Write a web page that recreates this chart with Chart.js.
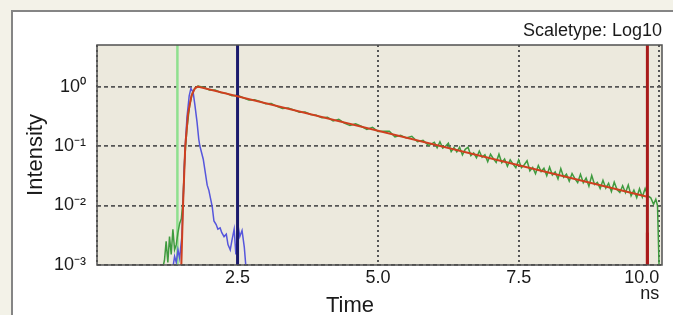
<!DOCTYPE html>
<html>
<head>
<meta charset="utf-8">
<script src="https://cdn.jsdelivr.net/npm/chart.js@4.4.1/dist/chart.umd.min.js"></script>
<style>
  html, body { margin: 0; padding: 0; overflow: hidden; background: #f3f2e8; }
  #panel { position: absolute; left: 11px; top: 10px; width: 700px; height: 400px;
           background: #ffffff; border: 2px solid #858585; }
  #wrap { position: absolute; left: 0; top: 0; width: 673px; height: 315px; }
</style>
</head>
<body>
<div id="panel"></div>
<div id="wrap"><canvas id="decay"></canvas></div>
<script>
// axis ticks
const xTickValues = [0, 2.5, 5, 7.5, 10];
const xTickLabels = ['', '2.5', '5.0', '7.5', ['10.0', 'ns']];
const yTickValues = [0.001, 0.01, 0.1, 1];
const yTickLabels = ['10⁻³', '10⁻²', '10⁻¹', '10⁰'];

// measured decay (green)
const timeData = [1.17, 1.20, 1.23, 1.26, 1.29, 1.32, 1.35, 1.38, 1.41, 1.44, 1.47,
  1.50, 1.53, 1.56, 1.60, 1.65, 1.70, 1.75, 1.80,
  1.9, 2.0, 2.1, 2.2, 2.3, 2.4, 2.5, 2.6, 2.7, 2.8, 2.9, 3.0, 3.1, 3.2, 3.3, 3.4, 3.5,
  3.6, 3.7, 3.8, 3.9, 4.0, 4.1, 4.2, 4.3, 4.4, 4.5, 4.6, 4.7, 4.8, 4.9, 5.0, 5.1, 5.2,
  5.3, 5.4, 5.5, 5.6, 5.7, 5.8, 5.9,
  6.00, 6.05, 6.10, 6.15, 6.20, 6.25, 6.30, 6.35, 6.40, 6.45, 6.50, 6.55, 6.60, 6.65,
  6.70, 6.75, 6.80, 6.85, 6.90, 6.95, 7.00, 7.05, 7.10, 7.15, 7.20, 7.25, 7.30, 7.35,
  7.40, 7.45, 7.50, 7.55, 7.60, 7.65, 7.70, 7.75, 7.80, 7.85, 7.90, 7.95, 8.00, 8.05,
  8.10, 8.15, 8.20, 8.25, 8.30, 8.35, 8.40, 8.45, 8.50, 8.55, 8.60, 8.65, 8.70, 8.75,
  8.80, 8.85, 8.90, 8.95, 9.00, 9.05, 9.10, 9.15, 9.20, 9.25, 9.30, 9.35, 9.40, 9.45,
  9.50, 9.55, 9.60, 9.65, 9.70, 9.75, 9.80, 9.85, 9.90, 9.94, 9.97, 10.00];
const intensityData = [0.0009, 0.0012, 0.0025, 0.0011, 0.0030, 0.0015, 0.0040, 0.0018, 0.0022, 0.0035, 0.0050,
  0.0060, 0.012, 0.06, 0.20, 0.50, 0.80, 0.95, 1.02,
  0.962, 0.876, 0.872, 0.795, 0.769, 0.700, 0.711, 0.649, 0.597, 0.600, 0.563, 0.514, 0.521, 0.466, 0.428, 0.436, 0.405,
  0.369, 0.374, 0.339, 0.330, 0.298, 0.306, 0.265, 0.282, 0.243, 0.221, 0.236, 0.215, 0.190, 0.207, 0.175, 0.177, 0.178,
  0.142, 0.152, 0.137, 0.146, 0.118, 0.125, 0.102,
  0.116, 0.0938, 0.118, 0.0923, 0.0993, 0.112, 0.0807, 0.0944, 0.0800, 0.0953, 0.0709, 0.0880, 0.0955, 0.0692,
  0.0767, 0.0635, 0.0824, 0.0649, 0.0716, 0.0545, 0.0728, 0.0613, 0.0532, 0.0730, 0.0526, 0.0605, 0.0458, 0.0589,
  0.0498, 0.0432, 0.0585, 0.0432, 0.0484, 0.0567, 0.0382, 0.0438, 0.0342, 0.0470, 0.0373, 0.0423, 0.0318, 0.0444,
  0.0326, 0.0367, 0.0280, 0.0417, 0.0299, 0.0336, 0.0257, 0.0346, 0.0283, 0.0243, 0.0335, 0.0241, 0.0289, 0.0211,
  0.0319, 0.0225, 0.0245, 0.0194, 0.0265, 0.0196, 0.0237, 0.0172, 0.0247, 0.0185, 0.0166, 0.0215, 0.0164, 0.0222,
  0.0146, 0.0182, 0.0136, 0.0192, 0.0139, 0.0193, 0.0145, 0.0135, 0.0105, 0.0128, 0.0100, 0.0008];

// instrument response (blue)
const timeIrf = [1.35, 1.38, 1.41, 1.44, 1.47, 1.49, 1.51, 1.53, 1.55, 1.57, 1.60, 1.64, 1.67,
  1.71, 1.74, 1.78, 1.81, 1.83, 1.89, 1.96, 1.99, 2.05, 2.08, 2.12, 2.15, 2.19, 2.22,
  2.26, 2.30, 2.33, 2.37, 2.40, 2.44, 2.47, 2.51, 2.54, 2.58, 2.62, 2.65];
const irf = [0.0009, 0.0014, 0.0011, 0.0018, 0.0013, 0.0020, 0.0030, 0.010, 0.040, 0.10, 0.30, 0.70, 0.93,
  0.80, 0.50, 0.25, 0.13, 0.10, 0.060, 0.022, 0.018, 0.0095, 0.0055, 0.0048, 0.0040, 0.0042, 0.0035,
  0.0030, 0.0033, 0.0022, 0.0018, 0.0026, 0.0040, 0.0015, 0.0045, 0.0030, 0.0038, 0.0020, 0.0009];

// fitted curve (red)
const timeFit = [1.50, 1.53, 1.57, 1.62, 1.68, 1.74, 1.79, 9.77];
const fit = [0.001, 0.01, 0.1, 0.35, 0.70, 0.93, 1.0, 0.0142];

// cursor lines
const cursorTimes = [1.43, 2.5, 9.79];
const yRange = [0.001, 5.0];

const pts = (xs, ys) => xs.map((x, i) => ({ x: x, y: ys[i] }));
const vline = (t, lo, hi) => [{ x: t, y: lo }, { x: t, y: hi }];

const FONT = "'Liberation Sans', Arial, Helvetica, sans-serif";

const frame = {
  id: 'frame',
  beforeDraw(chart) {
    const a = chart.chartArea, ctx = chart.ctx;
    ctx.save();
    ctx.fillStyle = '#ece9dd';
    ctx.fillRect(a.left, a.top, a.right - a.left, a.bottom - a.top);
    ctx.restore();
  },
  afterDraw(chart) {
    const a = chart.chartArea, ctx = chart.ctx;
    ctx.save();
    ctx.strokeStyle = '#505050';
    ctx.lineWidth = 1.5;
    ctx.strokeRect(a.left, a.top, a.right - a.left, a.bottom - a.top);
    ctx.fillStyle = '#1a1a1a';
    ctx.font = '18px ' + FONT;
    ctx.textAlign = 'right';
    ctx.textBaseline = 'alphabetic';
    ctx.fillText('Scaletype: Log10', a.right, 36);
    ctx.font = '22px ' + FONT;
    ctx.textAlign = 'center';
    ctx.fillText('Time', 350, 312);
    ctx.restore();
  }
};

new Chart(document.getElementById('decay'), {
  type: 'line',
  data: {
    datasets: [
      { data: pts(timeFit, fit), borderColor: '#cf3f1f', borderWidth: 2, order: 1 },
      { data: vline(cursorTimes[2], yRange[0], yRange[1]), borderColor: '#a81a1a', borderWidth: 3, order: 2 },
      { data: vline(cursorTimes[2], yRange[0], 0.0035), borderColor: '#e82a2a', borderWidth: 3, order: 2 },
      { data: vline(cursorTimes[1], yRange[0], yRange[1]), borderColor: '#1a1a6c', borderWidth: 3, order: 3 },
      { data: pts(timeIrf, irf), borderColor: '#5656dc', borderWidth: 1.5, order: 4 },
      { data: pts(timeData, intensityData), borderColor: '#3f9b3f', borderWidth: 1.5, order: 5 },
      { data: vline(cursorTimes[0], yRange[0], yRange[1]), borderColor: '#8fe08f', borderWidth: 2.5, order: 6 }
    ]
  },
  options: {
    responsive: true,
    maintainAspectRatio: false,
    animation: false,
    layout: { padding: { top: 45, right: 11, bottom: 0, left: 0 } },
    elements: { point: { radius: 0 }, line: { tension: 0 } },
    datasets: { line: { clip: 0, fill: false } },
    plugins: { legend: { display: false }, tooltip: { enabled: false } },
    scales: {
      x: {
        type: 'linear',
        min: 0,
        max: 10.05,
        afterBuildTicks: (s) => { s.ticks = xTickValues.map(v => ({ value: v })); },
        afterFit: (s) => { s.height = 50; s.paddingLeft = 0; s.paddingRight = 0; },
        grid: { color: '#555555', lineWidth: 2, drawTicks: false },
        border: { display: false, dash: [2, 3] },
        ticks: {
          autoSkip: false,
          maxRotation: 0,
          align: 'inner',
          padding: 5,
          color: '#1a1a1a',
          font: { family: FONT, size: 18, lineHeight: 0.89 },
          callback: (v, i) => xTickLabels[i]
        }
      },
      y: {
        type: 'logarithmic',
        min: yRange[0],
        max: yRange[1],
        afterBuildTicks: (s) => { s.ticks = yTickValues.map(v => ({ value: v })); },
        afterFit: (s) => { s.width = 97; s.paddingTop = 0; s.paddingBottom = 0; },
        grid: { color: '#555555', lineWidth: 1.8, drawTicks: false },
        border: { display: false, dash: [4, 3] },
        ticks: {
          padding: 11,
          color: '#1a1a1a',
          font: { family: FONT, size: 18 },
          callback: (v, i) => yTickLabels[i]
        },
        title: {
          display: true,
          text: 'Intensity',
          color: '#1a1a1a',
          font: { family: FONT, size: 22 },
          padding: { top: 23, bottom: 0 }
        }
      }
    }
  },
  plugins: [frame]
});
</script>
</body>
</html>
